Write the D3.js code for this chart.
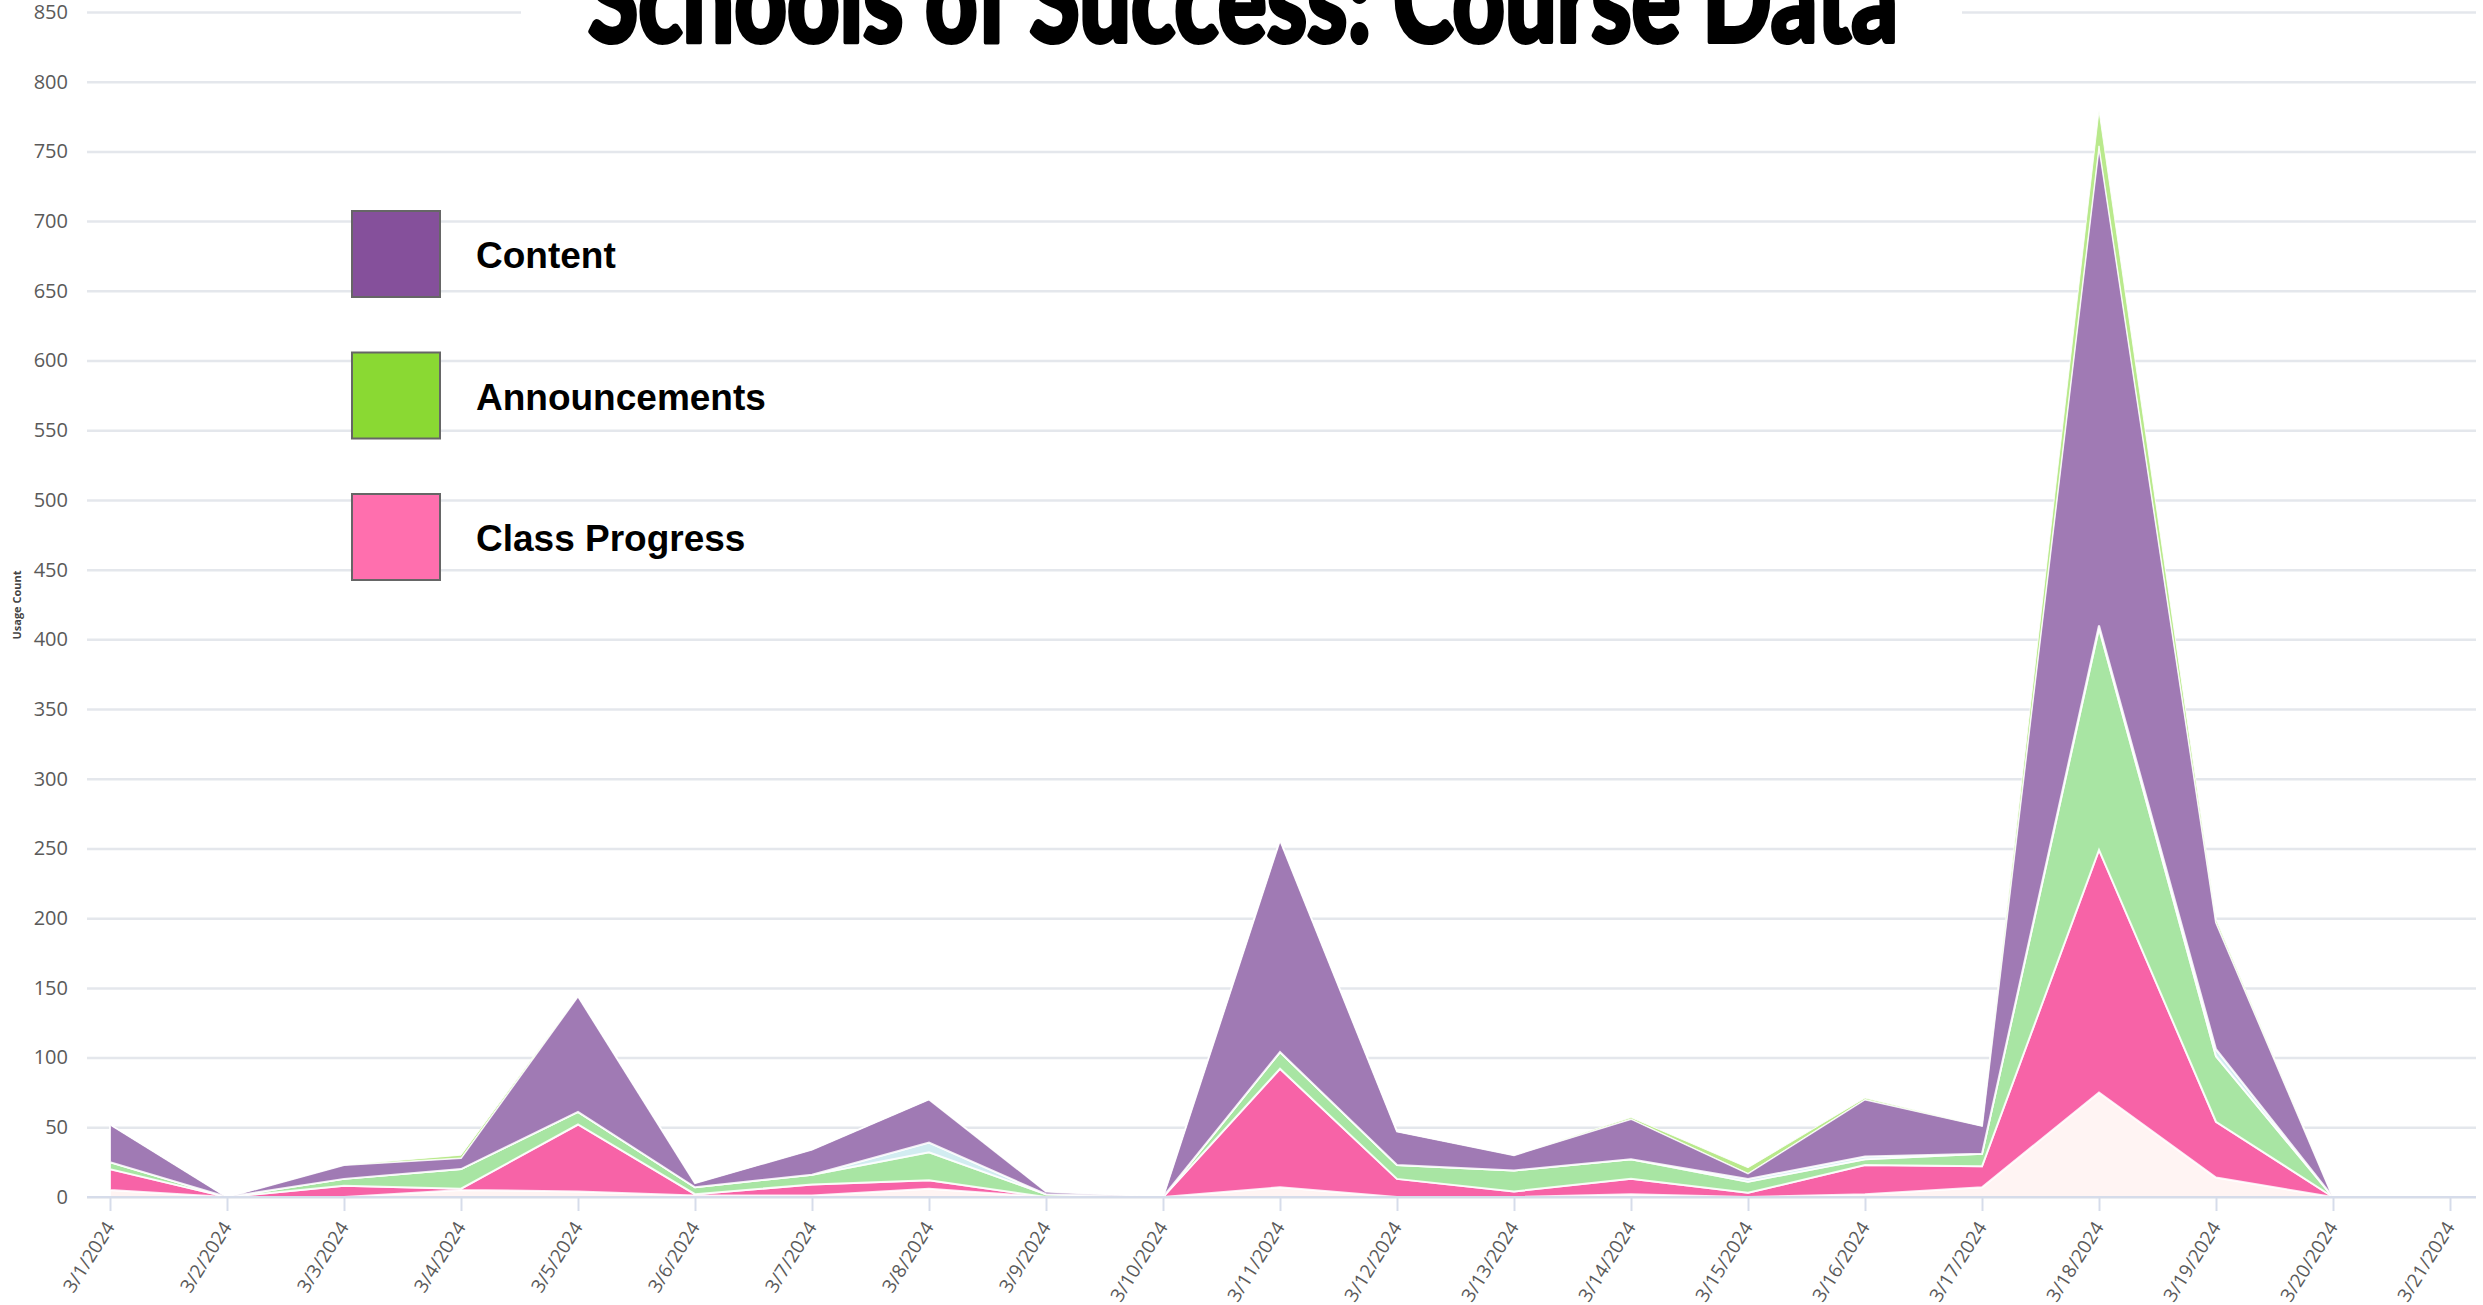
<!DOCTYPE html>
<html>
<head>
<meta charset="utf-8">
<script src="https://cdn.jsdelivr.net/npm/d3@7"></script>
<style>
  body { margin: 0; background: #fff; }
  svg { display: block; }
</style>
</head>
<body>
<div id="course_chart"></div>
<script>
(function () {

  'use strict';

  const WIDTH = 2483;
  const HEIGHT = 1305;
  const AXIS_FONT = 'Open Sans, DejaVu Sans, sans-serif';

  // Dates on the x axis (the last one has no data).
  const DATES = ['3/1/2024', '3/2/2024', '3/3/2024', '3/4/2024', '3/5/2024', '3/6/2024',
    '3/7/2024', '3/8/2024', '3/9/2024', '3/10/2024', '3/11/2024', '3/12/2024', '3/13/2024',
    '3/14/2024', '3/15/2024', '3/16/2024', '3/17/2024', '3/18/2024', '3/19/2024',
    '3/20/2024', '3/21/2024'];

  // Usage counts per day, bottom layer first.
  const UNLABELED_BOTTOM = [5, 0, 0, 5, 4, 1, 1, 6, 0, 0, 7, 0, 0, 2, 0, 2, 7, 75, 14, 0];
  const CLASS_PROGRESS = [15, 0, 8, 1, 48, 1, 8, 6, 0, 0, 85, 13, 4, 11, 3, 21, 15, 174, 40, 0];
  const ANNOUNCEMENTS = [5, 0, 5, 14, 9, 5, 7, 20, 2, 0, 12, 10, 15, 14, 8, 4, 9, 159, 47, 0];
  const UNLABELED_MIDDLE = [0, 0, 0, 0, 0, 0, 0, 7, 0, 0, 0, 0, 0, 0, 2, 2, 0, 2, 5, 0];
  const CONTENT = [27, 0, 10, 8, 83, 3, 18, 31, 2, 0, 152, 24, 11, 29, 4, 41, 20, 344, 91, 0];
  const UNLABELED_TOP = [0, 0, 0, 2, 0, 0, 0, 0, 0, 0, 0, 0, 0, 1, 4, 1, 0, 25, 2, 0];

  const Y_TICKS = [0, 50, 100, 150, 200, 250, 300, 350, 400, 450, 500, 550, 600, 650,
    700, 750, 800, 850];

  const LEGEND_LABELS = ['Content', 'Announcements', 'Class Progress'];
  const LEGEND_COLORS = ['#85509b', '#8ad933', '#ff6fae'];

  const KEYS = ['bottom', 'progress', 'announcements', 'middle', 'content', 'top'];
  const AREA_COLORS = {
    bottom: '#fff4f3',
    progress: '#f763a7',
    announcements: '#a8e5a3',
    middle: '#d2ecf1',
    content: '#a07ab4',
    top: '#b9e98c'
  };

  let rows = UNLABELED_BOTTOM.map(function (v, i) {
    return {
      date: DATES[i],
      bottom: v,
      progress: CLASS_PROGRESS[i],
      announcements: ANNOUNCEMENTS[i],
      middle: UNLABELED_MIDDLE[i],
      content: CONTENT[i],
      top: UNLABELED_TOP[i]
    };
  });

  let svg = d3.select('#course_chart')
    .append('svg')
    .attr('width', WIDTH)
    .attr('height', HEIGHT);

  let x = d3.scalePoint()
    .domain(DATES)
    .range([110, 2450]);

  let y = d3.scaleLinear()
    .domain([0, 850])
    .range([1197, 12]);

  // Grid lines + y labels.
  let y_axis = svg.append('g')
    .attr('transform', 'translate(87,0)')
    .call(d3.axisLeft(y).tickValues(Y_TICKS).tickSize(-2389).tickPadding(19));
  y_axis.select('.domain').remove();
  y_axis.selectAll('.tick line')
    .attr('stroke', '#e4e7ec')
    .attr('stroke-width', 2.5);
  y_axis.selectAll('.tick text')
    .attr('fill', '#5a5a5a')
    .style('font-family', AXIS_FONT)
    .style('font-size', '20px');

  svg.append('text')
    .attr('transform', 'translate(21,605) rotate(-90)')
    .attr('text-anchor', 'middle')
    .attr('fill', '#444')
    .style('font-family', AXIS_FONT)
    .style('font-weight', 700)
    .style('font-size', '11px')
    .text('Usage Count');

  // Stacked areas.
  let stack = d3.stack().keys(KEYS);
  let area = d3.area()
    .x(function (d) { return x(d.data.date); })
    .y0(function (d) { return y(d[0]); })
    .y1(function (d) { return y(d[1]); });

  svg.append('g')
    .selectAll('path')
    .data(stack(rows))
    .enter()
    .append('path')
    .attr('d', area)
    .attr('fill', function (s) { return AREA_COLORS[s.key]; })
    .attr('stroke', '#ffffff')
    .attr('stroke-width', function (s) { return s.key === 'top' ? 1 : 2; })
    .attr('stroke-opacity', 0.85);

  // X axis.
  let x_axis = svg.append('g')
    .attr('transform', 'translate(0,1197)')
    .call(d3.axisBottom(x).tickSize(14).tickPadding(0));
  x_axis.select('.domain').remove();
  x_axis.selectAll('.tick line')
    .attr('stroke', '#d6dcea')
    .attr('stroke-width', 2);
  // Rotated date labels, right end just under the tick.
  x_axis.selectAll('.tick text')
    .attr('fill', '#5a5a5a')
    .attr('text-anchor', 'end')
    .attr('y', 0)
    .attr('dy', 0)
    .attr('transform', 'translate(5,30) rotate(-58)')
    .style('font-family', AXIS_FONT)
    .style('font-size', '19px');

  svg.append('line')
    .attr('x1', 87)
    .attr('x2', 2476)
    .attr('y1', y(0))
    .attr('y2', y(0))
    .attr('stroke', '#d6dcea')
    .attr('stroke-width', 2);

  // Title, sitting on a white patch over the top grid line.
  svg.append('rect')
    .attr('x', 521)
    .attr('y', 0)
    .attr('width', 1441)
    .attr('height', 50)
    .attr('fill', '#fff');
  svg.append('text')
    .attr('x', 1243)
    .attr('y', 42)
    .attr('text-anchor', 'middle')
    .attr('textLength', 1310)
    .attr('lengthAdjust', 'spacingAndGlyphs')
    .attr('stroke', '#000')
    .attr('stroke-width', 4)
    .attr('stroke-linejoin', 'round')
    .style('font-family', 'Lato, Roboto, sans-serif')
    .style('font-weight', 900)
    .style('font-size', '118px')
    .text('Schools of Success: Course Data');

  // Legend.
  let legend = svg.append('g')
    .selectAll('g')
    .data(LEGEND_LABELS)
    .enter()
    .append('g')
    .attr('transform', function (d, i) {
      return 'translate(352,' + (211 + i * 141.5) + ')';
    });
  legend.append('rect')
    .attr('width', 88)
    .attr('height', 86)
    .attr('fill', function (d, i) { return LEGEND_COLORS[i]; })
    .attr('stroke', '#666')
    .attr('stroke-width', 2);
  legend.append('text')
    .attr('x', 124)
    .attr('y', 57)
    .style('font-family', 'Liberation Sans, Arial, sans-serif')
    .style('font-weight', 'bold')
    .style('font-size', '37px')
    .text(function (d) { return d; });

}());
</script>
</body>
</html>
